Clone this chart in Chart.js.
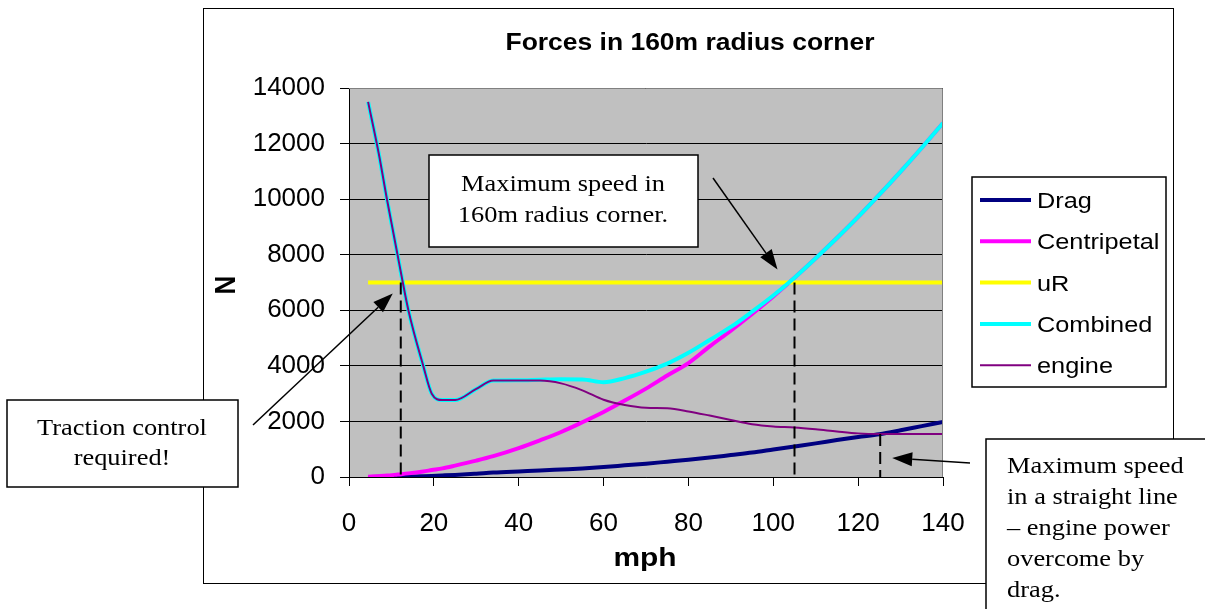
<!DOCTYPE html>
<html>
<head>
<meta charset="utf-8">
<script src="https://cdn.jsdelivr.net/npm/chart.js@4.4.1/dist/chart.umd.min.js"></script>
<style>
	body { margin: 0; background: #fff; }
	canvas { display: block; }
</style>
</head>
<body>
<canvas id="forces" width="1205" height="609"></canvas>
<script>
	// speeds in mph, forces in N
	var speed = [4.5, 7, 9, 11.5, 14, 17.5, 19.5, 22, 25, 30, 34, 40, 45, 50, 55, 60, 65, 70, 75, 80, 85, 90, 95, 100, 105, 110, 115, 120, 125, 130, 135, 140];
	var drag = [2, 5, 8, 13, 20, 31, 40, 55, 75, 120, 160, 200, 230, 270, 310, 360, 420, 480, 550, 620, 700, 790, 880, 990, 1100, 1210, 1330, 1440, 1540, 1680, 1830, 1980];
	var centripetal = [10, 30, 50, 90, 130, 200, 250, 310, 410, 590, 750, 1040, 1320, 1620, 1970, 2340, 2750, 3180, 3650, 4100, 4700, 5270, 5870, 6500, 7170, 7870, 8600, 9360, 10160, 10990, 11850, 12740];
	var combined = [13500, 11650, 9950, 7950, 6000, 4000, 3000, 2770, 2770, 3170, 3470, 3480, 3500, 3515, 3510, 3410, 3560, 3790, 4080, 4470, 4930, 5400, 5950, 6530, 7170, 7870, 8600, 9360, 10160, 10990, 11850, 12740];
	var engine = [13500, 11650, 9950, 7950, 6000, 4000, 3000, 2770, 2770, 3170, 3470, 3470, 3470, 3370, 3120, 2780, 2590, 2490, 2470, 2360, 2210, 2050, 1900, 1820, 1785, 1720, 1640, 1570, 1548, 1548, 1548, 1548];
	var urSpeed = [4.5, 140];
	var urForce = [7000, 7000];

	// crossing points marked with dashed drop lines
	var markSpeed = [12.2, 105, 125.2];
	var markForce = [7000, 7000, 1548];

	var yTicks = [0, 2000, 4000, 6000, 8000, 10000, 12000, 14000];
	var xTicks = [0, 20, 40, 60, 80, 100, 120, 140];

	function pts(xs, ys){
		var out = [];
		for(var i = 0; i < xs.length; i++)
			out.push({ x: xs[i], y: ys[i] });
		return out;
	}

	function serie(label, xs, ys, color, width, order){
		return {
			label: label,
			data: pts(xs, ys),
			borderColor: color,
			backgroundColor: color,
			borderWidth: width,
			pointRadius: 0,
			showLine: true,
			cubicInterpolationMode: 'monotone',
			order: order
		};
	}

	var datasets = [
		serie('Drag', speed, drag, '#000080', 4, 5),
		serie('Centripetal', speed, centripetal, '#ff00ff', 4, 4),
		serie('uR', urSpeed, urForce, '#ffff00', 4, 3),
		serie('Combined', speed, combined, '#00ffff', 4, 2),
		serie('engine', speed, engine, '#800080', 2, 1)
	];
	for(var m = 0; m < markSpeed.length; m++){
		datasets.push({
			label: '',
			data: pts([markSpeed[m], markSpeed[m]], [markForce[m], 0]),
			borderColor: '#000',
			borderWidth: 2,
			borderDash: [12, 6],
			pointRadius: 0,
			showLine: true,
			order: 0,
			isMark: true
		});
	}

	function txt(ctx, s, x, y, font, align, sx){
		ctx.save();
		ctx.translate(x, y);
		ctx.scale(sx, 1);
		ctx.font = font;
		ctx.textAlign = align;
		ctx.textBaseline = 'alphabetic';
		ctx.fillStyle = '#000';
		ctx.fillText(s, 0, 0);
		ctx.restore();
	}

	function arrow(ctx, x1, y1, x2, y2){
		var a = Math.atan2(y2 - y1, x2 - x1), len = 20, w = 7;
		var bx = x2 - len * Math.cos(a), by = y2 - len * Math.sin(a);
		ctx.save();
		ctx.strokeStyle = '#000';
		ctx.fillStyle = '#000';
		ctx.lineWidth = 1.5;
		ctx.beginPath();
		ctx.moveTo(x1, y1);
		ctx.lineTo(bx, by);
		ctx.stroke();
		ctx.beginPath();
		ctx.moveTo(x2, y2);
		ctx.lineTo(bx + w * Math.sin(a), by - w * Math.cos(a));
		ctx.lineTo(bx - w * Math.sin(a), by + w * Math.cos(a));
		ctx.closePath();
		ctx.fill();
		ctx.restore();
	}

	function box(ctx, x, y, w, h){
		ctx.save();
		ctx.fillStyle = '#fff';
		ctx.fillRect(x, y, w, h);
		ctx.strokeStyle = '#000';
		ctx.lineWidth = 1.5;
		ctx.strokeRect(x, y, w, h);
		ctx.restore();
	}

	var serif = '24px "Liberation Serif", "Times New Roman", serif';

	var decor = {
		id: 'decor',
		beforeDraw: function(chart){
			var ctx = chart.ctx, a = chart.chartArea;
			ctx.save();
			ctx.fillStyle = '#fff';
			ctx.fillRect(0, 0, chart.width, chart.height);
			ctx.strokeStyle = '#000';
			ctx.lineWidth = 1;
			ctx.strokeRect(203.5, 8.5, 970, 575);
			ctx.fillStyle = '#c0c0c0';
			ctx.fillRect(a.left, a.top, a.right - a.left, a.bottom - a.top);
			ctx.restore();
		},
		afterDraw: function(chart){
			var ctx = chart.ctx, a = chart.chartArea;
			var xs = chart.scales.x, ys = chart.scales.y;
			ctx.save();
			ctx.strokeStyle = '#808080';
			ctx.lineWidth = 1;
			ctx.beginPath();
			ctx.moveTo(a.left, a.top + 0.5);
			ctx.lineTo(a.right - 0.5, a.top + 0.5);
			ctx.lineTo(a.right - 0.5, a.bottom);
			ctx.stroke();
			ctx.restore();

			txt(ctx, 'Forces in 160m radius corner', 690, 50, 'bold 23px "Liberation Sans", Arial, sans-serif', 'center', 1.15);
			txt(ctx, 'mph', 645, 566, 'bold 26px "Liberation Sans", Arial, sans-serif', 'center', 1.15);
			ctx.save();
			ctx.translate(235, 285);
			ctx.scale(1.15, 1);
			ctx.rotate(-Math.PI / 2);
			ctx.font = 'bold 26px "Liberation Sans", Arial, sans-serif';
			ctx.textAlign = 'center';
			ctx.textBaseline = 'alphabetic';
			ctx.fillStyle = '#000';
			ctx.fillText('N', 0, 0);
			ctx.restore();

			// legend
			box(ctx, 972, 177, 194, 210);
			var row = 0;
			chart.data.datasets.forEach(function(d){
				if(d.isMark) return;
				var y = 200 + row * 41.3;
				ctx.save();
				ctx.strokeStyle = d.borderColor;
				ctx.lineWidth = d.borderWidth;
				ctx.beginPath();
				ctx.moveTo(980, y);
				ctx.lineTo(1031, y);
				ctx.stroke();
				ctx.restore();
				txt(ctx, d.label, 1037, y + 8, '22px "Liberation Sans", Arial, sans-serif', 'left', 1.15);
				row++;
			});

			// notes
			box(ctx, 429, 155, 269, 92);
			txt(ctx, 'Maximum speed in', 563, 191, serif, 'center', 1.1);
			txt(ctx, '160m radius corner.', 563, 222, serif, 'center', 1.1);
			arrow(ctx, 713, 178, xs.getPixelForValue(markSpeed[1]) - 17, ys.getPixelForValue(markForce[1]) - 13);

			box(ctx, 7, 400, 231, 87);
			txt(ctx, 'Traction control', 122, 435, serif, 'center', 1.1);
			txt(ctx, 'required!', 122, 465, serif, 'center', 1.1);
			arrow(ctx, 253, 425, xs.getPixelForValue(markSpeed[0]) - 8, ys.getPixelForValue(markForce[0]) + 11);

			box(ctx, 986, 439, 230, 190);
			var lines = ['Maximum speed', 'in a straight line', '\u2013 engine power', 'overcome by', 'drag.'];
			lines.forEach(function(s, i){
				txt(ctx, s, 1007, 473 + i * 31, serif, 'left', 1.1);
			});
			arrow(ctx, 970, 463, xs.getPixelForValue(markSpeed[2]) + 12, ys.getPixelForValue(markForce[2]) + 24);
		}
	};

	var tickFont = { family: '"Liberation Sans", Arial, sans-serif', size: 26 };
	var plain = function(v){ return String(v); };

	new Chart(document.getElementById('forces'), {
		type: 'scatter',
		data: { datasets: datasets },
		options: {
			responsive: false,
			animation: false,
			devicePixelRatio: 1,
			layout: { padding: { left: 203, top: 88, right: 262, bottom: 0 } },
			plugins: {
				legend: { display: false },
				title: { display: false },
				tooltip: { enabled: false }
			},
			scales: {
				x: {
					type: 'linear',
					min: 0,
					max: 140,
					afterBuildTicks: function(s){ s.ticks = xTicks.map(function(v){ return { value: v }; }); },
					afterFit: function(s){ s.height = 132; },
					ticks: { font: tickFont, color: '#000', padding: 22, maxRotation: 0, callback: plain },
					grid: { drawOnChartArea: false, color: '#000', tickLength: 9 },
					border: { color: '#000', width: 1 }
				},
				y: {
					type: 'linear',
					min: 0,
					max: 14000,
					afterBuildTicks: function(s){ s.ticks = yTicks.map(function(v){ return { value: v }; }); },
					afterFit: function(s){ s.width = 146; },
					ticks: { font: tickFont, color: '#000', padding: 15, callback: plain },
					grid: { color: '#000', lineWidth: 1, tickLength: 9 },
					border: { color: '#000', width: 1 }
				}
			}
		},
		plugins: [decor]
	});
</script>
</body>
</html>
